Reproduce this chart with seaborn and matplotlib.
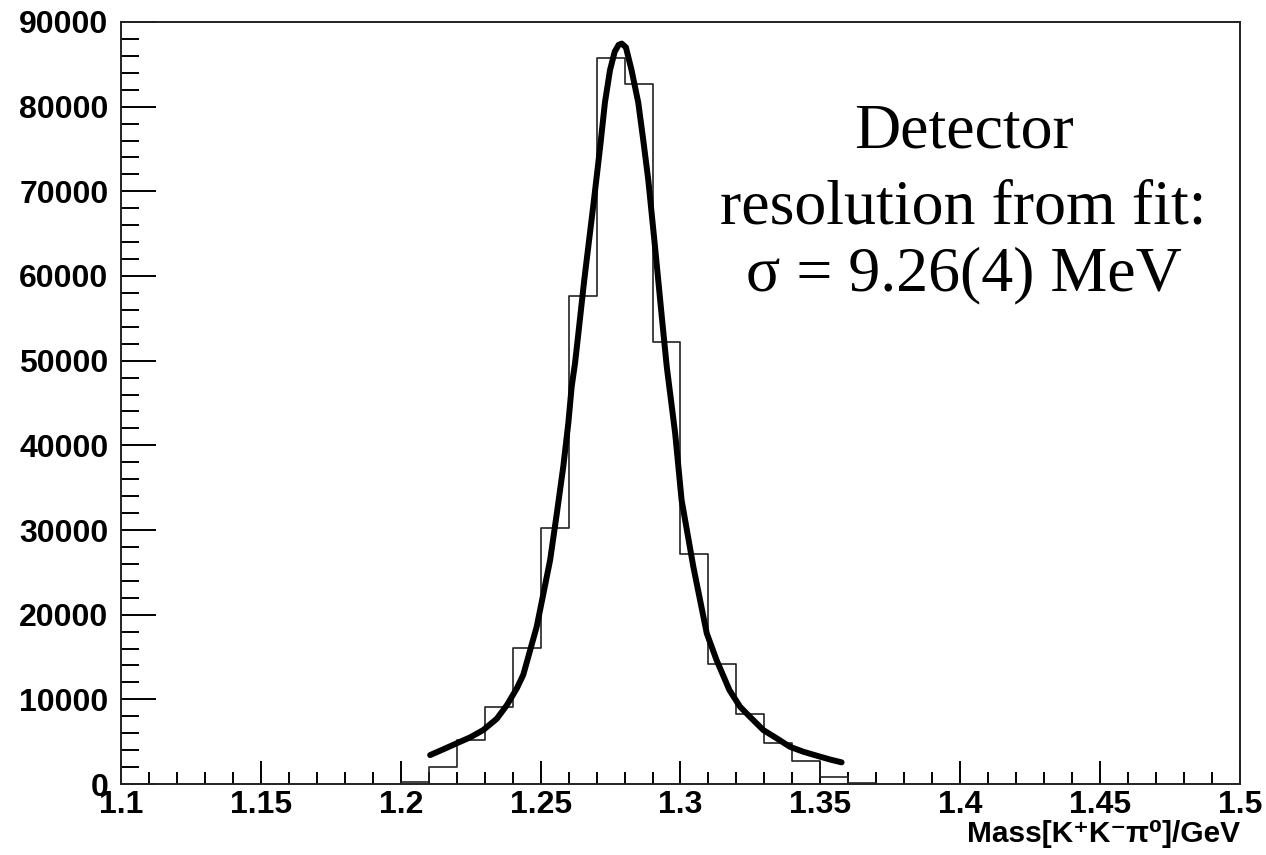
import matplotlib
matplotlib.use('Agg')
import matplotlib.pyplot as plt
import seaborn as sns
import numpy as np
import pandas as pd
from matplotlib.ticker import MultipleLocator

# histogram: bin edges and counts
BIN_EDGES = [1.20, 1.21, 1.22, 1.23, 1.24, 1.25, 1.26, 1.27, 1.28, 1.29,
             1.30, 1.31, 1.32, 1.33, 1.34, 1.35, 1.36, 1.37]
COUNTS = [270, 2040, 5200, 9130, 16020, 30190, 57600, 85750, 82700, 52150,
          27120, 14130, 8230, 4880, 2750, 790, 100]

# fit curve points
FIT_X = [1.2105, 1.2152, 1.2200, 1.2248, 1.2295, 1.2343, 1.2379, 1.2415, 1.2438,
         1.2486, 1.2510, 1.2534, 1.2558, 1.2581, 1.2599, 1.2611, 1.2623, 1.2635,
         1.2656, 1.2689, 1.2712, 1.2730, 1.2748, 1.2765, 1.2779, 1.2790, 1.2805,
         1.2825, 1.2849, 1.2867, 1.2885, 1.2909, 1.2932, 1.2951, 1.2981, 1.3004,
         1.3046, 1.3094, 1.3129, 1.3175, 1.3213, 1.3248, 1.3296, 1.3344, 1.3391,
         1.3439, 1.3487, 1.3534, 1.3576]
FIT_Y = [3420, 4100, 4810, 5510, 6380, 7700, 9300, 11300, 12900,
         18580, 22500, 26450, 31970, 37480, 42600, 46920, 49690, 53230,
         59520, 68500, 75000, 80500, 84300, 86500, 87300, 87450, 87000,
         84330, 80500, 76040, 71320, 63450, 55590, 49280, 41420, 33540,
         25660, 17800, 14640, 11100, 9130, 7950, 6380, 5400, 4405,
         3815, 3350, 2900, 2560]

ANNOTATION = ['Detector', 'resolution from fit:', 'σ = 9.26(4) MeV']
X_LABEL = 'Mass[K⁺K⁻π⁰]/GeV'


def main():
    sns.set_style('ticks')
    plt.rcParams['font.family'] = ['Liberation Sans', 'DejaVu Sans']
    plt.rcParams['text.color'] = 'black'
    plt.rcParams['xtick.color'] = 'black'
    plt.rcParams['ytick.color'] = 'black'
    plt.rcParams['axes.labelcolor'] = 'black'

    centers = [(a + b) / 2 for a, b in zip(BIN_EDGES[:-1], BIN_EDGES[1:])]
    hist_df = pd.DataFrame({'mass': centers, 'count': COUNTS})
    fit_df = pd.DataFrame({'mass': FIT_X, 'value': FIT_Y})

    fig = plt.figure(figsize=(12.66, 8.55), dpi=100)
    ax = fig.add_axes([0.0956, 0.0830, 0.8838, 0.8913])

    sns.histplot(data=hist_df, x='mass', weights='count', bins=BIN_EDGES,
                 element='step', fill=False, color='#222222', linewidth=1.2, ax=ax)
    sns.lineplot(data=fit_df, x='mass', y='value', color='black', linewidth=4.3, ax=ax)

    ax.set_xlim(1.1, 1.5)
    ax.set_ylim(0, 90000)

    ax.xaxis.set_major_locator(MultipleLocator(0.05))
    ax.xaxis.set_minor_locator(MultipleLocator(0.01))
    ax.yaxis.set_major_locator(MultipleLocator(10000))
    ax.yaxis.set_minor_locator(MultipleLocator(2000))
    ax.set_xticklabels([f'{v:g}' for v in ax.get_xticks()])
    ax.set_yticklabels([f'{int(v)}' for v in ax.get_yticks()])

    ax.tick_params(axis='x', which='major', direction='in', length=16.5, width=1.4,
                   labelsize=23, pad=4)
    ax.tick_params(axis='x', which='minor', direction='in', length=8.5, width=1.4)
    ax.tick_params(axis='y', which='major', direction='in', length=25, width=1.4,
                   labelsize=23, pad=9)
    ax.tick_params(axis='y', which='minor', direction='in', length=13, width=1.4)
    for lbl in ax.get_xticklabels() + ax.get_yticklabels():
        lbl.set_fontweight('bold')

    for side in ['left', 'bottom', 'top', 'right']:
        ax.spines[side].set_visible(True)
        ax.spines[side].set_linewidth(1.4)
        ax.spines[side].set_color('#222222')

    ax.set_ylabel('')
    ax.set_xlabel(X_LABEL, loc='right', fontsize=21.5, fontweight='bold', labelpad=0)

    ys = [0.855, 0.755, 0.667]
    for txt, y in zip(ANNOTATION, ys):
        ax.text(0.753, y, txt, transform=ax.transAxes, ha='center', va='center',
                fontsize=46, color='black', family=['Liberation Serif', 'DejaVu Serif'])

    plt.savefig('out.png', dpi=100)
    plt.close()


if __name__ == "__main__":
    main()
